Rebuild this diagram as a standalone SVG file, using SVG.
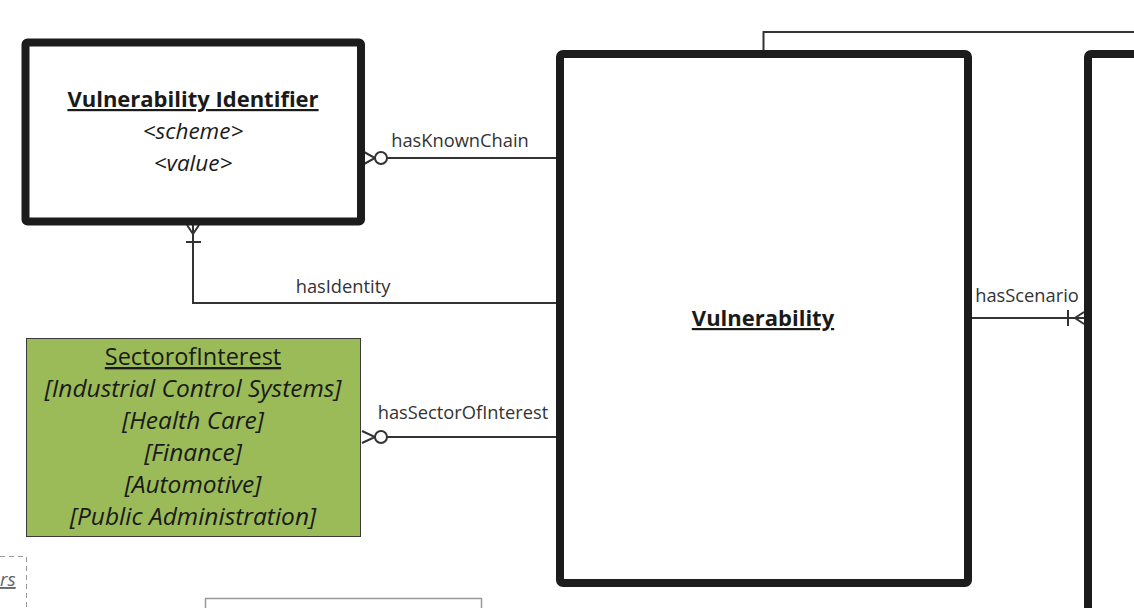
<svg xmlns="http://www.w3.org/2000/svg" width="1134" height="608" viewBox="0 0 1134 608">
<style>
.ent{fill:#fff;stroke:#1c1c1c;stroke-width:8}
.t{font-family:"Open Sans","Noto Sans",sans-serif;fill:#1a1a1a;text-anchor:middle}
.title{font-size:22px;font-weight:bold;text-decoration:underline}
.attr{font-size:22.5px;font-style:italic}
.sattr{font-size:24.5px;font-style:italic}
.lbl{font-family:"Open Sans","Noto Sans",sans-serif;font-size:18.3px;fill:#333;text-anchor:middle}
.ln{fill:none;stroke:#333;stroke-width:2}
.circ{fill:#fff;stroke:#333;stroke-width:2}
</style>
<rect width="1134" height="608" fill="#fff"/>

<g id="node-partial-left">
<path d="M0 556.5 H26.5 V608" fill="none" stroke="#999" stroke-width="1" stroke-dasharray="5,4"/>
<text x="0" y="586" font-family="'Open Sans','Noto Sans',sans-serif" font-size="19" font-style="italic" fill="#666" text-decoration="underline">rs</text>
</g>
<g id="node-partial-bottom">
<path d="M205.5 608 V598.5 H481.5 V608" fill="none" stroke="#999" stroke-width="1.5"/>
</g>

<g id="connectors">
<!-- hasKnownChain -->
<path class="ln" d="M556 158 H387"/>
<path class="ln" d="M364 152 L375 158 L364 164"/>
<circle class="circ" cx="381" cy="158" r="6"/>
<text class="lbl" x="460" y="147">hasKnownChain</text>
<!-- hasIdentity -->
<path class="ln" d="M556 303 H193 V225"/>
<path class="ln" d="M187 225 L193 234 L199 225"/>
<path class="ln" d="M186 242 H201"/>
<text class="lbl" x="343" y="293">hasIdentity</text>
<!-- hasSectorOfInterest -->
<path class="ln" d="M556 437 H387"/>
<path class="ln" d="M362 431 L375 437 L362 443"/>
<circle class="circ" cx="381" cy="437" r="6"/>
<text class="lbl" x="463" y="419">hasSectorOfInterest</text>
<!-- hasScenario -->
<path class="ln" d="M969 318 H1084"/>
<path class="ln" d="M1068 310 V326"/>
<path class="ln" d="M1084 312 L1075 318 L1084 324"/>
<text class="lbl" x="1027" y="302">hasScenario</text>
<!-- top connector -->
<path class="ln" d="M763.5 50 V32 H1134"/>
</g>

<g id="node-vulnerability-identifier">
<rect class="ent" x="25.5" y="42.5" width="335.5" height="179" rx="2"/>
<text class="t title" x="193" y="107">Vulnerability Identifier</text>
<text class="t attr" x="193" y="139">&lt;scheme&gt;</text>
<text class="t attr" x="193" y="171">&lt;value&gt;</text>
</g>

<g id="node-sector-of-interest">
<rect x="26.5" y="338.5" width="334" height="198" fill="#9bbb59" stroke="#3a3a3a" stroke-width="1"/>
<text class="t" x="193" y="365" font-size="23.5" text-decoration="underline">SectorofInterest</text>
<text class="t sattr" x="193" y="397">[Industrial Control Systems]</text>
<text class="t sattr" x="193" y="429">[Health Care]</text>
<text class="t sattr" x="193" y="461">[Finance]</text>
<text class="t sattr" x="193" y="493">[Automotive]</text>
<text class="t sattr" x="193" y="525">[Public Administration]</text>
</g>

<g id="node-vulnerability">
<rect class="ent" x="560" y="54" width="408" height="529" rx="3"/>
<text class="t title" x="763" y="326">Vulnerability</text>
</g>

<g id="node-right">
<rect class="ent" x="1088" y="54" width="60" height="570" rx="3"/>
</g>
</svg>
